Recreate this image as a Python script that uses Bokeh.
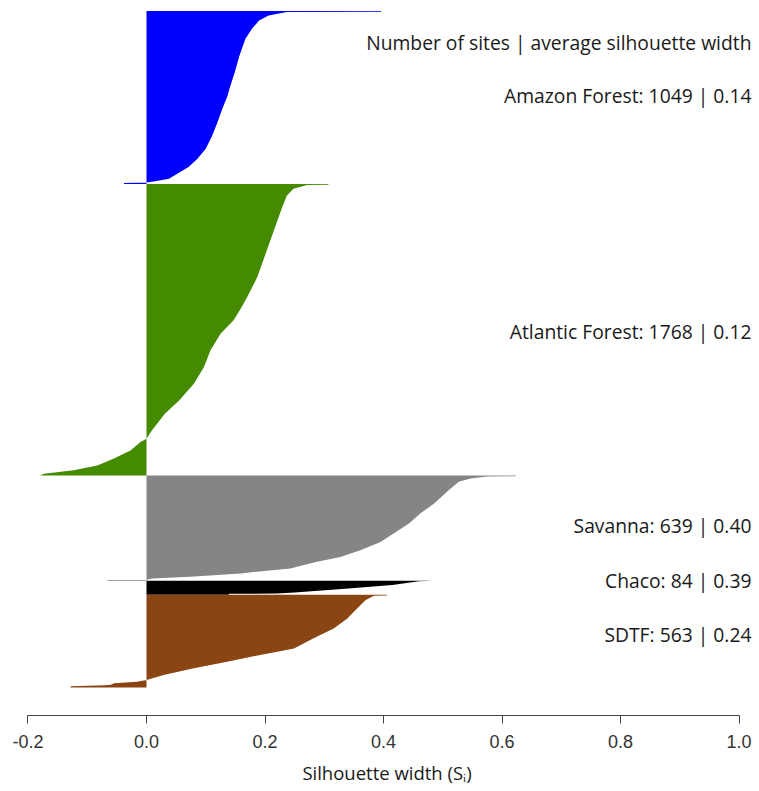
from bokeh.plotting import figure
from bokeh.models import Range1d, FixedTicker, PrintfTickFormatter, ColumnDataSource
from bokeh.core.properties import value
from bokeh.embed import file_html
from bokeh.resources import INLINE

# ---------------- data ----------------
clusters = ["Amazon Forest", "Atlantic Forest", "Savanna", "Chaco", "SDTF"]
n_sites = [1049, 1768, 639, 84, 563]
avg_width = [0.14, 0.12, 0.40, 0.39, 0.24]
header = "Number of sites | average silhouette width"

# silhouette profile of each cluster: site rank (sorted, top = largest) vs width
amazon_rank = [0, 5, 6, 27, 58, 108, 169, 270, 371, 472, 512, 593, 674, 755, 835,
               896, 947, 987, 1017, 1034, 1041, 1043, 1049]
amazon_width = [0.396, 0.396, 0.237, 0.206, 0.19, 0.178, 0.167, 0.157, 0.149, 0.14,
                0.137, 0.128, 0.12, 0.111, 0.10, 0.086, 0.071, 0.052, 0.038, 0.012,
                0.0, -0.038, -0.038]

atlantic_rank = [0, 5, 6, 29, 70, 141, 282, 424, 565, 686, 757, 827, 908, 1009, 1110,
                 1212, 1313, 1394, 1495, 1545, 1565, 1616, 1666, 1707, 1737, 1757, 1768]
atlantic_width = [0.307, 0.307, 0.271, 0.248, 0.237, 0.229, 0.215, 0.201, 0.187, 0.17,
                  0.159, 0.147, 0.125, 0.108, 0.097, 0.08, 0.055, 0.031, 0.009, 0.0,
                  -0.01, -0.027, -0.055, -0.083, -0.123, -0.173, -0.18]

savanna_rank = [0, 5, 6, 19, 39, 90, 171, 231, 292, 352, 403, 453, 494, 524, 554, 564,
                594, 615, 625, 633, 634, 639]
savanna_width = [0.623, 0.623, 0.575, 0.547, 0.527, 0.51, 0.485, 0.462, 0.443, 0.417,
                 0.395, 0.361, 0.327, 0.288, 0.254, 0.243, 0.159, 0.074, 0.01, 0.0,
                 -0.066, -0.066]

chaco_rank = [0, 3, 26, 50, 71, 77, 79, 84]
chaco_width = [0.484, 0.46, 0.415, 0.33, 0.25, 0.22, 0.139, 0.139]

sdtf_rank = [0, 5, 6, 33, 64, 104, 144, 205, 265, 326, 366, 407, 447, 488, 518, 528,
             538, 546, 549, 556, 563]
sdtf_width = [0.406, 0.406, 0.384, 0.37, 0.361, 0.35, 0.339, 0.316, 0.282, 0.249,
              0.192, 0.136, 0.08, 0.029, 0.0, -0.016, -0.055, -0.06, -0.07, -0.128,
              -0.128]

x_ticks = [-0.2, 0.0, 0.2, 0.4, 0.6, 0.8, 1.0]

# ---------------- style / layout ----------------
colors = ["#0000FF", "#458B00", "#858585", "#000000", "#8B4513"]
LABEL_X = 1.021
HEADER_Y = 189
LABEL_Y = [512, 1942, 3118, 3452, 3779]
TEXT_FONT = "Open Sans"

profiles = [(amazon_rank, amazon_width), (atlantic_rank, atlantic_width),
            (savanna_rank, savanna_width), (chaco_rank, chaco_width),
            (sdtf_rank, sdtf_width)]

total = sum(n_sites)
p = figure(width=757, height=791, output_backend="svg", toolbar_location=None,
           x_range=Range1d(-0.2194, 1.0312), y_range=Range1d(total + 170, -9),
           y_axis_location=None, min_border_left=16, min_border_right=0,
           min_border_top=9, min_border_bottom=76)
p.outline_line_color = None
p.grid.visible = False
p.background_fill_color = "white"

xs, ys = [], []
offset = 0
for (ranks, widths), n in zip(profiles, n_sites):
    px = [0.0] + list(widths) + [0.0]
    py = [offset + ranks[0]] + [offset + r for r in ranks] + [offset + n]
    xs.append(px)
    ys.append(py)
    offset += n

p.patches(xs=xs, ys=ys, fill_color=colors, line_color=None)

labels = [header] + [f"{c}: {n} | {a:.2f}" for c, n, a in zip(clusters, n_sites, avg_width)]
src = ColumnDataSource(dict(x=[LABEL_X] * len(labels), y=[HEADER_Y] + LABEL_Y, t=labels))
p.text(x="x", y="y", text="t", source=src, text_align="right", text_baseline="middle",
       text_font=value(TEXT_FONT), text_font_size="19.3px", text_color="#1a1a1a")

ax = p.xaxis[0]
ax.ticker = FixedTicker(ticks=x_ticks)
ax.formatter = PrintfTickFormatter(format="%.1f")
ax.bounds = (-0.2, 1.0)
ax.minor_tick_line_color = None
ax.major_tick_in = 0
ax.major_tick_out = 8
ax.axis_line_color = "#444444"
ax.major_tick_line_color = "#444444"
ax.major_label_text_font = "Liberation Sans"
ax.major_label_text_font_size = "18px"
ax.major_label_text_color = "#333333"
ax.major_label_standoff = 11
ax.axis_label = "Silhouette width (S\u1d62)"
ax.axis_label_text_font = TEXT_FONT
ax.axis_label_text_font_style = "normal"
ax.axis_label_text_font_size = "18.5px"
ax.axis_label_text_color = "#1a1a1a"
ax.axis_label_standoff = 9

open("out.html", "w").write(file_html(p, INLINE))
